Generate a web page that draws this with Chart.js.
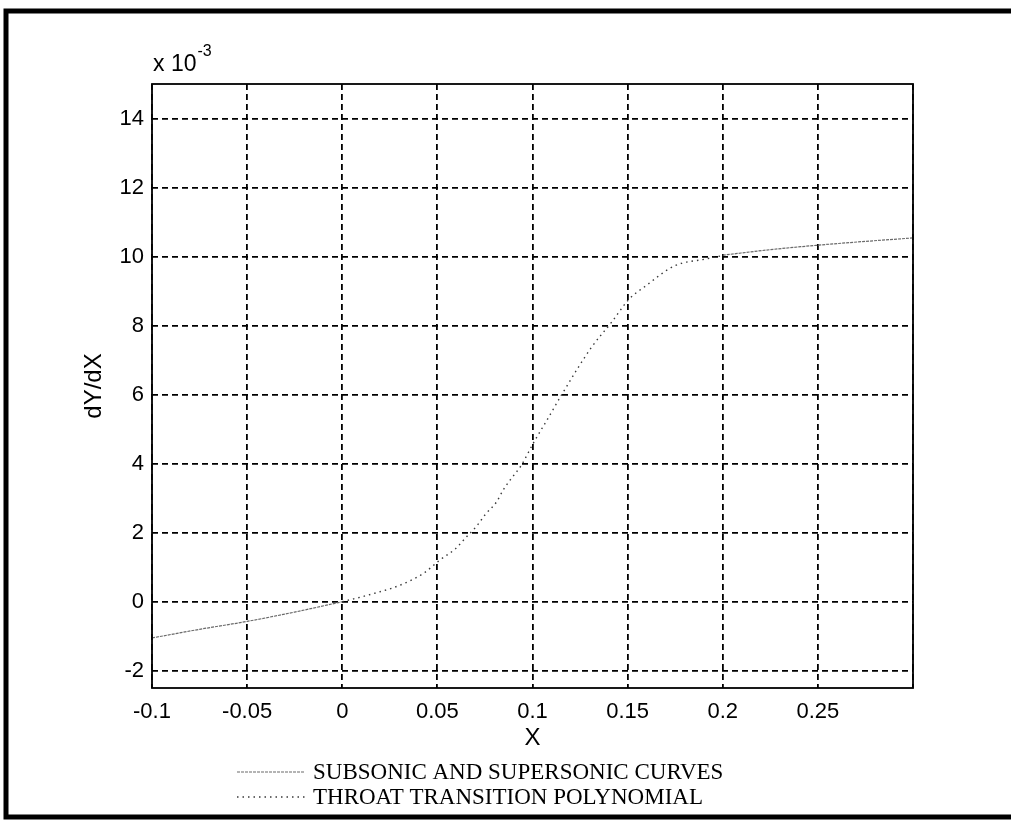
<!DOCTYPE html>
<html lang="en">
<head>
<meta charset="UTF-8">
<title>dY/dX</title>
<script src="https://cdn.jsdelivr.net/npm/chart.js"></script>
<style>
  html, body { margin: 0; padding: 0; background: #fff; }
  #wrap { position: relative; width: 1011px; height: 820px; }
</style>
</head>
<body>
<div id="wrap"><canvas id="grafico" width="1011" height="820"></canvas></div>

<script>
// slope values are in units of 1e-3
var subX = [-0.1, -0.075, -0.05, -0.025, 0];
var subY = [-1.05, -0.8, -0.57, -0.3, 0];

var polyX = [0, 0.0108, 0.0187, 0.0265, 0.035, 0.0429, 0.0516, 0.0594, 0.0655, 0.0708, 0.0751, 0.0812,
             0.0846, 0.089, 0.0942, 0.1003, 0.108, 0.116, 0.131, 0.1416, 0.1505, 0.1595, 0.175, 0.19, 0.2];
var polyY = [0, 0.15, 0.27, 0.40, 0.59, 0.83, 1.22, 1.53, 1.89, 2.2, 2.52, 2.9,
             3.24, 3.58, 3.96, 4.58, 5.3, 6.06, 7.37, 8.1, 8.75, 9.15, 9.74, 9.92, 10.03];

var supX = [0.2, 0.225, 0.25, 0.275, 0.3];
var supY = [10.04, 10.2, 10.33, 10.44, 10.54];

var xTicks = [-0.1, -0.05, 0, 0.05, 0.1, 0.15, 0.2, 0.25, 0.3];
var yTicks = [-2, 0, 2, 4, 6, 8, 10, 12, 14];

var legendLabels = ['SUBSONIC AND SUPERSONIC CURVES', 'THROAT TRANSITION POLYNOMIAL'];

function pontos(xs, ys) {
    var r = [];
    for (var i = 0; i < xs.length; i++) r.push({ x: xs[i], y: ys[i] });
    return r;
}

var estiloCurva = { borderColor: '#6a6a6a', borderWidth: 1.2, borderDash: [3, 1] };
var estiloPoli = { borderColor: '#3a3a3a', borderWidth: 1.4, borderDash: [1.5, 4] };

var dados = {
    datasets: [
        Object.assign({ label: legendLabels[0], data: pontos(subX, subY) }, estiloCurva),
        Object.assign({ label: legendLabels[1], data: pontos(polyX, polyY) }, estiloPoli),
        Object.assign({ label: '', data: pontos(supX, supY) }, estiloCurva)
    ]
};

var fonteEixo = '"Liberation Sans", Arial, sans-serif';

// text, frame and legend drawn around the axes
var extras = {
    id: 'extras',
    beforeDraw: function (chart) {
        var c = chart.ctx;
        c.save();
        c.fillStyle = '#fff';
        c.fillRect(0, 0, chart.width, chart.height);
        c.restore();
    },
    afterDraw: function (chart) {
        var c = chart.ctx;
        var a = chart.chartArea;
        c.save();

        // outer frame
        c.strokeStyle = '#000';
        c.lineWidth = 5;
        c.beginPath();
        c.moveTo(1011, 11); c.lineTo(6, 11); c.lineTo(6, 817); c.lineTo(1011, 817);
        c.stroke();

        // axes box
        c.lineWidth = 1.8;
        c.strokeRect(a.left, a.top, a.right - a.left, a.bottom - a.top);

        c.fillStyle = '#000';
        c.font = '23px ' + fonteEixo;
        c.textBaseline = 'alphabetic';
        c.textAlign = 'left';
        c.fillText('x 10', a.left + 1, 71);
        var w = c.measureText('x 10').width;
        c.font = '16px ' + fonteEixo;
        c.fillText('-3', a.left + w + 2, 56);

        c.font = '24px ' + fonteEixo;
        c.textAlign = 'center';
        c.textBaseline = 'middle';
        c.fillText('X', (a.left + a.right) / 2, 738);

        c.save();
        c.translate(94, (a.top + a.bottom) / 2);
        c.rotate(-Math.PI / 2);
        c.fillText('dY/dX', 0, 0);
        c.restore();

        // legend
        c.font = '23px "Liberation Serif", "Times New Roman", serif';
        c.textAlign = 'left';
        var rows = [772, 797];
        for (var i = 0; i < 2; i++) {
            var ds = chart.data.datasets[i];
            c.strokeStyle = ds.borderColor;
            c.lineWidth = ds.borderWidth;
            c.setLineDash(ds.borderDash);
            c.beginPath();
            c.moveTo(237, rows[i]);
            c.lineTo(305, rows[i]);
            c.stroke();
            c.setLineDash([]);
            c.fillText(ds.label, 313, rows[i] + 1);
        }
        c.restore();
    }
};

var config = {
    type: 'line',
    data: dados,
    options: {
        responsive: false,
        animation: false,
        layout: { padding: { left: 0, top: 84, right: 98, bottom: 0 } },
        elements: {
            point: { radius: 0 },
            line: { tension: 0, cubicInterpolationMode: 'monotone' }
        },
        plugins: { legend: { display: false }, tooltip: { enabled: false } },
        scales: {
            x: {
                type: 'linear',
                min: -0.1,
                max: 0.3,
                afterFit: function (s) { s.height = 132; },
                afterBuildTicks: function (s) { s.ticks = xTicks.map(function (v) { return { value: v }; }); },
                border: { display: false, dash: [6, 4] },
                grid: { color: '#000', lineWidth: 1.8, drawTicks: false },
                ticks: {
                    color: '#000',
                    padding: 11,
                    maxRotation: 0,
                    font: { family: fonteEixo, size: 22 },
                    callback: function (v) { return v >= 0.3 ? '' : String(Math.round(v * 100) / 100); }
                }
            },
            y: {
                min: -2.5,
                max: 15,
                afterFit: function (s) { s.width = 152; },
                afterBuildTicks: function (s) { s.ticks = yTicks.map(function (v) { return { value: v }; }); },
                border: { display: false, dash: [6, 4] },
                grid: { color: '#000', lineWidth: 1.8, drawTicks: false },
                ticks: {
                    color: '#000',
                    padding: 8,
                    font: { family: fonteEixo, size: 22 }
                }
            }
        }
    },
    plugins: [extras]
};

var myChart = new Chart(document.getElementById('grafico'), config);
</script>
</body>
</html>
